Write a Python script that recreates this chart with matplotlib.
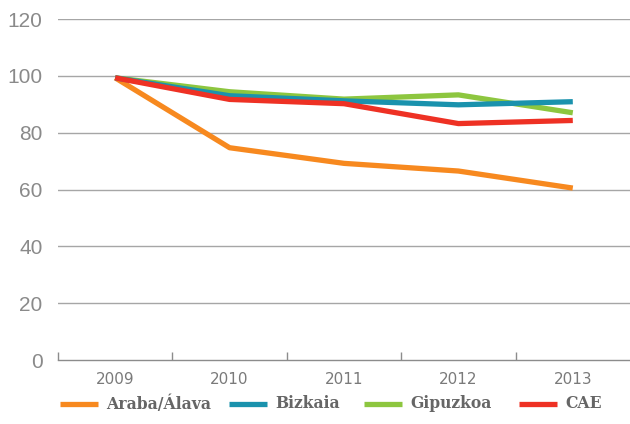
import matplotlib

matplotlib.use("Agg")
import matplotlib.pyplot as plt
from matplotlib.lines import Line2D

# Index values, 2009 = base
years = ["2009", "2010", "2011", "2012", "2013"]
araba = [99.3, 74.7, 69.2, 66.5, 60.5]
bizkaia = [99.3, 93.0, 91.2, 89.8, 90.9]
gipuzkoa = [99.3, 94.4, 91.8, 93.3, 87.0]
cae = [99.3, 91.7, 90.2, 83.2, 84.3]

series = [
    ("Araba/Álava", araba, "#F7891F"),
    ("Gipuzkoa", gipuzkoa, "#8DC63F"),
    ("Bizkaia", bizkaia, "#1A92AD"),
    ("CAE", cae, "#EE3124"),
]
legend_order = ["Araba/Álava", "Bizkaia", "Gipuzkoa", "CAE"]
legend_x = [60, 229, 364, 519]  # left edge of each legend swatch, px

W, H = 630, 424
fig = plt.figure(figsize=(W / 100, H / 100), dpi=100)
ax = fig.add_axes((58 / W, 64 / H, 1 - 58 / W, 341 / H))

x = list(range(len(years)))
for name, values, color in series:
    ax.plot(x, values, color=color, lw=3.8, solid_capstyle="butt",
            solid_joinstyle="round")

ax.set_xlim(-0.5, 4.5)
ax.set_ylim(0, 120)
ax.set_yticks(range(0, 121, 20))
for v in range(20, 121, 20):
    ax.axhline(v, color="#a6a6a6", lw=1.0, zorder=0)

for side in ("left", "right", "top"):
    ax.spines[side].set_visible(False)
ax.spines["bottom"].set_color("#8c8c8c")
ax.spines["bottom"].set_linewidth(1.0)

ax.set_xticks(x)
ax.set_xticklabels(years)
ax.set_xticks([i - 0.5 for i in x], minor=True)
ax.tick_params(axis="x", which="major", length=0, pad=9,
               labelsize=11, labelcolor="#7a7a7a")
ax.tick_params(axis="x", which="minor", direction="in", length=6,
               color="#8c8c8c", width=1.0)
ax.tick_params(axis="y", length=0, pad=11, labelsize=15,
               labelcolor="#8a8a8a")
for lbl in ax.get_xticklabels():
    lbl.set_family("Liberation Sans Narrow")
for lbl in ax.get_yticklabels():
    lbl.set_family("Liberation Sans")

# Legend drawn by hand along the bottom edge
colors = {name: color for name, _, color in series}
y_leg = 1 - 404 / H
for name, x0 in zip(legend_order, legend_x):
    fig.add_artist(Line2D([x0 / W, (x0 + 38) / W], [y_leg, y_leg],
                          color=colors[name], lw=3.8, solid_capstyle="butt"))
    fig.text((x0 + 46) / W, y_leg, name, color="#666666", va="center",
             ha="left", family="DejaVu Serif", weight="bold",
             fontstretch="condensed", fontsize=12.5)

fig.savefig("out.png", dpi=100)
